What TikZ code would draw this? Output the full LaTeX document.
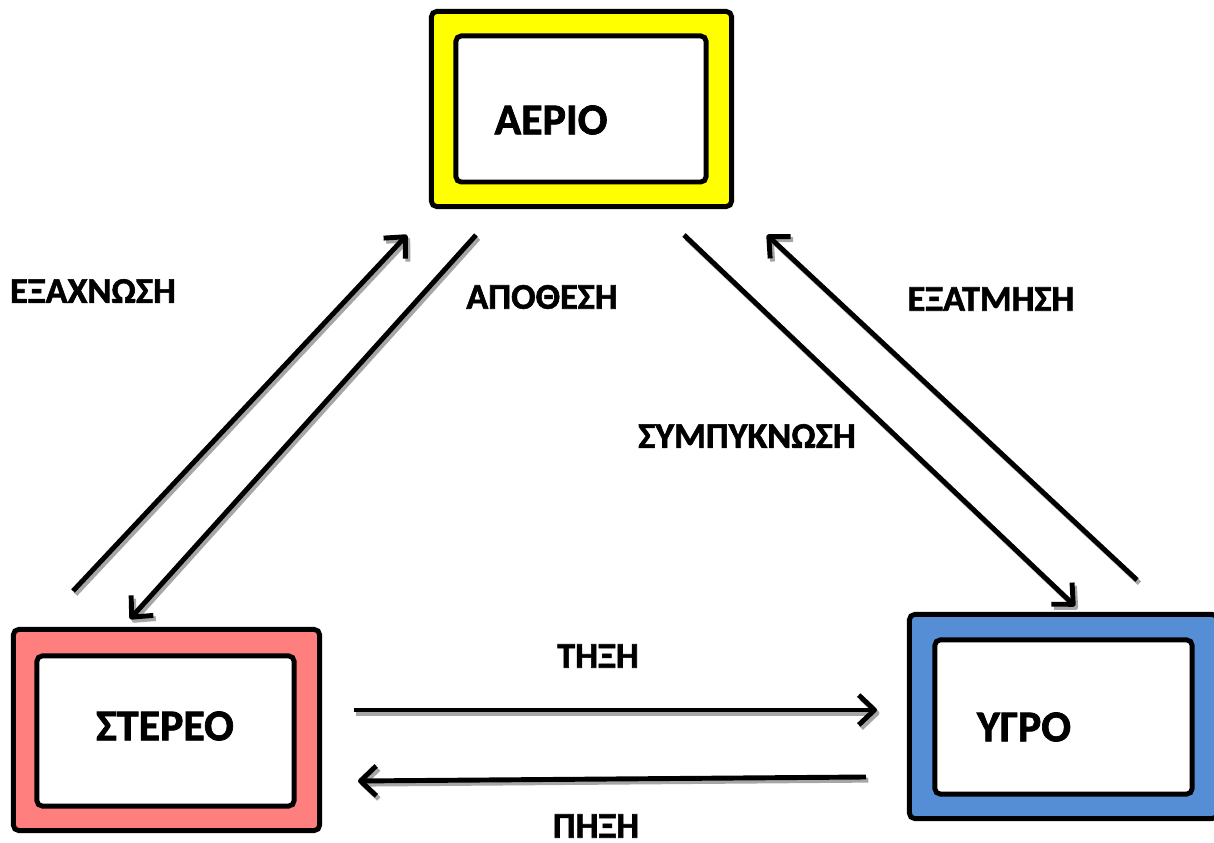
\documentclass[tikz,border=0pt]{standalone}
\usepackage{fontspec}
\setmainfont{Carlito}[BoldFeatures={FakeBold=1.6}]
\usetikzlibrary{arrows.meta}
\definecolor{gasyellow}{HTML}{FFFF00}
\definecolor{solidred}{HTML}{FF7F7F}
\definecolor{liquidblue}{HTML}{558ED5}
\tikzstyle{outerbox} = [rectangle, draw=black, line width=1.4pt, rounded corners=1.5pt, inner sep=0pt]
\tikzstyle{innerbox} = [rectangle, draw=black, fill=white, line width=1.4pt, rounded corners=1.5pt, inner sep=0pt]
\tikzstyle{state} = [font=\fontsize{12.5}{15}\selectfont\bfseries, inner sep=0pt]
\tikzstyle{change} = [font=\fontsize{10.3}{12}\selectfont\bfseries, inner sep=0pt]
\tikzstyle{arrow} = [line width=1.4pt, line join=round, -{Straight Barb[length=4.5pt,width=8.5pt,line join=round]}]
\tikzstyle{arrowshadow} = [arrow, draw=black!35, transform canvas={shift={(0.7pt,-0.9pt)}}]

\begin{document}
\begin{tikzpicture}[x=0.01cm, y=-0.01cm]
\useasboundingbox (0,0) rectangle (1214,843);

\node (gasOuter) [outerbox, fill=gasyellow, minimum width=3.0cm, minimum height=1.95cm] at (581.5,109) {};
\node (gasInner) [innerbox, minimum width=2.5cm, minimum height=1.46cm] at (581,109) {};
\node (gas) [state] at (551,120) {ΑΕΡΙΟ};

\node (solidOuter) [outerbox, fill=solidred, minimum width=3.06cm, minimum height=2.01cm] at (166.5,730) {};
\node (solidInner) [innerbox, minimum width=2.57cm, minimum height=1.5cm] at (165.5,731) {};
\node (solid) [state] at (165,726) {ΣΤΕΡΕΟ};

\node (liquidOuter) [outerbox, fill=liquidblue, minimum width=3.08cm, minimum height=2.04cm] at (1063.5,716.5) {};
\node (liquidInner) [innerbox, minimum width=2.57cm, minimum height=1.54cm] at (1063.5,717) {};
\node (liquid) [state] at (1024,727) {ΥΓΡΟ};

\node (sublimation) [change] at (93,291) {ΕΞΑΧΝΩΣΗ};
\node (deposition) [change] at (542,297) {ΑΠΟΘΕΣΗ};
\node (condensation) [change] at (747,436) {ΣΥΜΠΥΚΝΩΣΗ};
\node (evaporation) [change] at (991,299) {ΕΞΑΤΜΗΣΗ};
\node (melting) [change] at (598,656) {ΤΗΞΗ};
\node (freezing) [change] at (596,826) {ΠΗΞΗ};

% arrow ends
\coordinate (subFrom) at (73,591);
\coordinate (subTo) at (407,235);
\coordinate (depFrom) at (476,235);
\coordinate (depTo) at (130,619);
\coordinate (conFrom) at (684,235);
\coordinate (conTo) at (1075,606);
\coordinate (evaFrom) at (1137,580);
\coordinate (evaTo) at (767,235);
\coordinate (melFrom) at (354,710);
\coordinate (melTo) at (877,710);
\coordinate (freFrom) at (866,777);
\coordinate (freTo) at (358,781);

% shadows first
\draw [arrowshadow] (subFrom) -- (subTo);
\draw [arrowshadow] (depFrom) -- (depTo);
\draw [arrowshadow] (conFrom) -- (conTo);
\draw [arrowshadow] (evaFrom) -- (evaTo);
\draw [arrowshadow] (melFrom) -- (melTo);
\draw [arrowshadow] (freFrom) -- (freTo);

\draw [arrow] (subFrom) -- (subTo);
\draw [arrow] (depFrom) -- (depTo);
\draw [arrow] (conFrom) -- (conTo);
\draw [arrow] (evaFrom) -- (evaTo);
\draw [arrow] (melFrom) -- (melTo);
\draw [arrow] (freFrom) -- (freTo);

\end{tikzpicture}
\end{document}
